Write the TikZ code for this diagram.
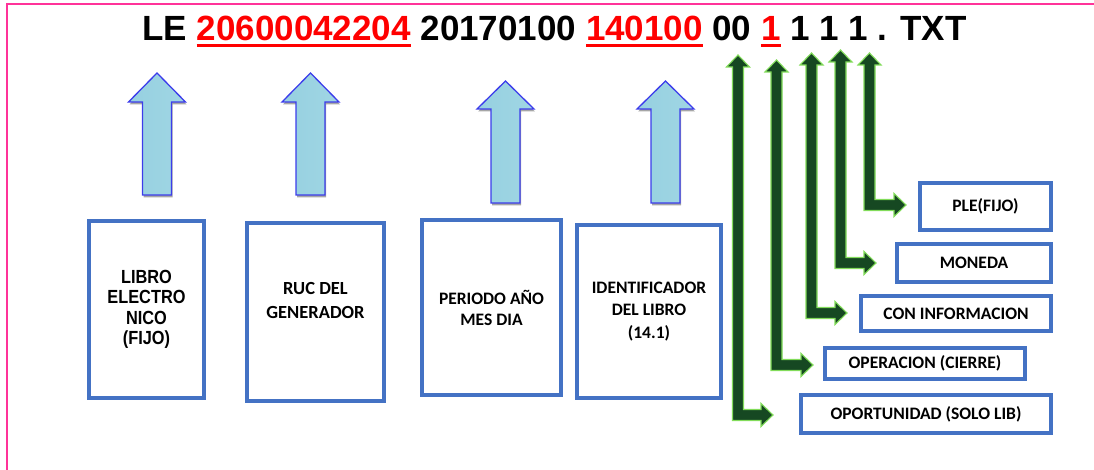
\documentclass[tikz,border=0pt]{standalone}
\usepackage{fontspec}
\setmainfont{Carlito}
\newfontfamily\arialf{Liberation Sans}
\newfontfamily\arialn[FakeStretch=0.86]{Liberation Sans}
\usetikzlibrary{shadows}
\definecolor{boxblue}{RGB}{68,114,196}
\definecolor{framepink}{RGB}{255,51,153}
\definecolor{arrowblue}{RGB}{60,60,235}
\definecolor{icel}{RGB}{150,208,224}
\definecolor{icem}{RGB}{196,236,244}
\definecolor{icer}{RGB}{160,214,228}
\definecolor{gfill}{RGB}{22,72,34}
\definecolor{gline}{RGB}{130,220,90}
\newcommand\rul[1]{\textcolor{red}{\setbox0\hbox{#1}\rlap{\rule[-6pt]{\wd0}{2.8pt}}\box0}}
\newcommand\barrow[4]{\path[bluearrow] (#1,#2) -- ({#1+28.5},#3) -- ({#1+14.5},#3) -- ({#1+14.5},#4) -- ({#1-14.5},#4) -- ({#1-14.5},#3) -- ({#1-28.5},#3) -- cycle;}
\newcommand\garrow[4]{\filldraw[greenarrow] (#1,#2) -- ({#1+11.5},{#2+12}) -- ({#1+5.5},{#2+12}) -- ({#1+5.5},{#3-5.5}) -- ({#4-12},{#3-5.5}) -- ({#4-12},{#3-11.5}) -- (#4,#3) -- ({#4-12},{#3+11.5}) -- ({#4-12},{#3+5.5}) -- ({#1-5.5},{#3+5.5}) -- ({#1-5.5},{#2+12}) -- ({#1-11.5},{#2+12}) -- cycle;}
\begin{document}
\begin{tikzpicture}[x=1pt,y=-1pt,
  bbox/.style={draw=boxblue,line width=4pt,inner sep=0pt,align=center,font=\bfseries\fontsize{17.5}{22}\selectfont},
  bluearrow/.style={draw=arrowblue,line width=1.3pt,left color=icel,middle color=icem,right color=icer,
    drop shadow={shadow xshift=1pt,shadow yshift=-2.5pt,opacity=0.35,fill=black}},
  greenarrow/.style={fill=gfill,draw=gline,line width=1.1pt,line join=miter}]
\useasboundingbox (0,0) rectangle (1094,470);
% frame
\draw[framepink,line width=2pt] (6.5,470) -- (6.5,4.5) -- (1094,4.5);
% title
\node[anchor=base,inner sep=0pt,font=\arialf\bfseries\fontsize{35}{40}\selectfont] (title) at (554.5,41)
  {LE \rul{20600042204} 20170100 \rul{140100} 00 \rul{1} 1 1 1 . TXT};
% blue block arrows
\barrow{157}{73}{102}{195}
\barrow{310.5}{73}{102}{195}
\barrow{505.5}{81}{109}{203}
\barrow{665.5}{81}{109}{203}
% lower boxes
\node[bbox,minimum width=115pt,minimum height=177pt,font=\arialn\bfseries\fontsize{19}{20.5}\selectfont] (b1) at (146.5,309.5)
  {LIBRO\\ELECTRO\\NICO\\(FIJO)};
\node[bbox,minimum width=137pt,minimum height=178pt,font=\bfseries\fontsize{18.5}{24}\selectfont] (b2) at (315.5,312)
  {RUC DEL\\GENERADOR\\\mbox{}};
\node[bbox,minimum width=139pt,minimum height=175pt,font=\bfseries\fontsize{17.5}{21}\selectfont] (b3) at (491.5,307.5)
  {PERIODO AÑO\\MES DIA};
\node[bbox,minimum width=144pt,minimum height=173pt,font=\bfseries\fontsize{17.5}{22.5}\selectfont] (b4) at (649,311.5)
  {IDENTIFICADOR\\DEL LIBRO\\(14.1)};
% right boxes
\node[bbox,minimum width=131pt,minimum height=47pt] (ple) at (985.5,206.5) {PLE(FIJO)};
\node[bbox,minimum width=154pt,minimum height=38pt] (mon) at (974,263) {MONEDA};
\node[bbox,minimum width=190pt,minimum height=35pt] (con) at (956,313.5) {CON INFORMACION};
\node[bbox,minimum width=200pt,minimum height=31pt] (ope) at (925,363.5) {OPERACION (CIERRE)};
\node[bbox,minimum width=250pt,minimum height=38pt] (opo) at (926,414) {OPORTUNIDAD (SOLO LIB)};
% green elbow arrows
\garrow{738}{55}{415}{773}
\garrow{776.5}{60}{365}{813}
\garrow{811.5}{53}{313}{847}
\garrow{840.5}{50}{263}{876}
\garrow{869.5}{53}{205}{906}
\end{tikzpicture}
\end{document}
